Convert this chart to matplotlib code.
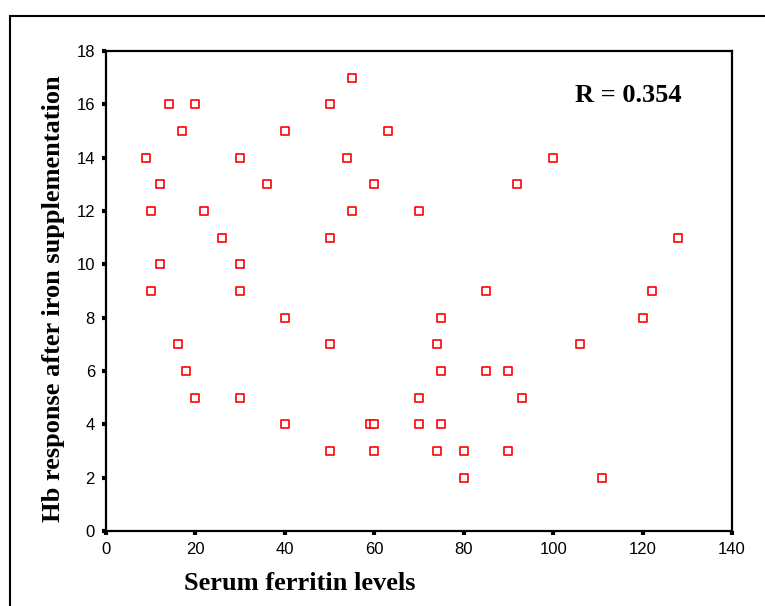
import matplotlib
matplotlib.use("Agg")
import matplotlib.pyplot as plt
from matplotlib.patches import Rectangle

# Data (serum ferritin vs Hb response)
ferritin = [55, 14, 20, 50, 17, 40, 63, 9, 30, 54, 100, 12, 36, 60, 92,
            10, 22, 55, 70, 26, 50, 128, 12, 30, 10, 30, 85, 122, 40, 75,
            120, 16, 50, 74, 106, 18, 75, 85, 90, 20, 30, 70, 93, 40, 59,
            60, 70, 75, 50, 60, 74, 80, 90, 80, 111]
hb_response = [17, 16, 16, 16, 15, 15, 15, 14, 14, 14, 14, 13, 13, 13, 13,
               12, 12, 12, 12, 11, 11, 11, 10, 10, 9, 9, 9, 9, 8, 8,
               8, 7, 7, 7, 7, 6, 6, 6, 6, 5, 5, 5, 5, 4, 4,
               4, 4, 4, 3, 3, 3, 3, 3, 2, 2]

x_ticks = [0, 20, 40, 60, 80, 100, 120, 140]
y_ticks = [0, 2, 4, 6, 8, 10, 12, 14, 16, 18]
r_value = 0.354

W, H = 765, 606
fig = plt.figure(figsize=(W / 100, H / 100), dpi=100)
fig.patch.set_facecolor("white")

# outer frame (runs off the right and bottom edges)
fig.patches.append(Rectangle((10 / W, -0.2), 2.0, 1 - 16 / H + 0.2,
                             transform=fig.transFigure, fill=False,
                             edgecolor="black", linewidth=1.5))

ax = fig.add_axes([106 / W, 1 - 531 / H, 626 / W, 480 / H])

ax.scatter(ferritin, hb_response, marker="s", s=26, facecolors="white",
           edgecolors="red", linewidths=1.2, zorder=3, clip_on=False)

ax.set_xlim(0, 140)
ax.set_ylim(0, 18)
ax.set_xticks(x_ticks)
ax.set_yticks(y_ticks)

tick_font = {"family": "Liberation Sans", "size": 12}
ax.set_xticklabels([str(v) for v in x_ticks], fontdict=tick_font)
ax.set_yticklabels([str(v) for v in y_ticks], fontdict=tick_font)
ax.tick_params(direction="out", length=3, width=3, pad=5, color="black")

for sp in ax.spines.values():
    sp.set_linewidth(1.6)

label_font = {"family": "Liberation Serif", "weight": "bold", "size": 19}
ax.set_xlabel("Serum ferritin levels", fontdict=label_font)
ax.set_ylabel("Hb response after iron supplementation", fontdict=label_font)
ax.xaxis.set_label_coords(0.31, -0.085)
ax.yaxis.set_label_coords(-0.066, 0.485)

ax.text(0.919, 0.908, f"R = {r_value:.3f}", transform=ax.transAxes,
        ha="right", va="center", family="Liberation Serif",
        weight="bold", size=19)

fig.savefig("out.png", dpi=100, facecolor="white")
